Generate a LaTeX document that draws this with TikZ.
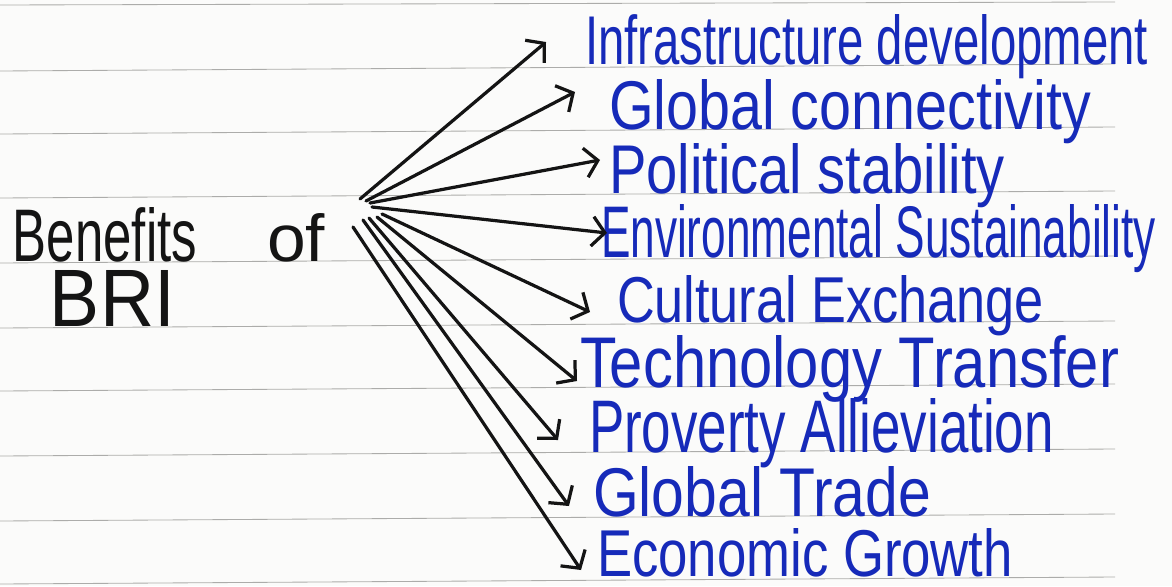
\documentclass[tikz,border=0pt]{standalone}
\usepackage{fontspec}
\setmainfont{Liberation Sans}
\newfontfamily\hand{Liberation Sans}
\usetikzlibrary{arrows.meta}
\newlength\px
\setlength\px{0.025cm}
\newcommand\fitbox[3]{\resizebox{#1\px}{#2\px}{\fontsize{44}{50}\selectfont #3}}
\definecolor{ink}{RGB}{22,42,185}
\definecolor{pen}{RGB}{20,20,20}
\definecolor{paper}{RGB}{251,251,250}
\definecolor{rulec}{RGB}{172,172,170}
\begin{document}
\begin{tikzpicture}[x=0.025cm,y=-0.025cm,
  rule/.style={rulec, line width=0.6pt},
  blue text/.style={anchor=base west, inner sep=0pt, outer sep=0pt, text=ink, font=\hand},
  black text/.style={anchor=base west, inner sep=0pt, outer sep=0pt, text=pen, font=\hand},
  arr/.style={pen, line width=2.3pt, line cap=round, line join=round,
    -{Straight Barb[length=9pt,width=21pt]}}]
\fill[paper] (0,0) rectangle (1172,586);
\useasboundingbox (0,0) rectangle (1172,586);
% ruled lines of the paper
\draw[rule] (0,5) -- (1115,2);
\foreach \m in {70,133,197,262,327,390,455,520,583}
  \draw[rule] (0,\m+1) -- (1115,\m-6);
% central text
\node[black text] (benefits) at (13,261) {\fitbox{184}{54}{Benefits}};
\node[black text] (of) at (267,261) {\fitbox{58}{48}{of}};
\node[black text] (bri) at (50,326) {\fitbox{125}{56}{BRI}};
% branches
\node[blue text] (n1) at (585,64) {\fitbox{563}{50}{Infrastructure development}};
\node[blue text] (n2) at (609,129) {\fitbox{482}{50}{Global connectivity}};
\node[blue text] (n3) at (609,193) {\fitbox{396}{50}{Political stability}};
\node[blue text] (n4) at (601,257) {\fitbox{555}{53}{Environmental Sustainability}};
\node[blue text] (n5) at (617,322) {\fitbox{427}{47}{Cultural Exchange}};
\node[blue text] (n6) at (580,387) {\fitbox{539}{52}{Technology Transfer}};
\node[blue text] (n7) at (589,452) {\fitbox{465}{54}{Proverty Allieviation}};
\node[blue text] (n8) at (593,516) {\fitbox{338}{50}{Global Trade}};
\node[blue text] (n9) at (597,576) {\fitbox{416}{48}{Economic Growth}};
% fan origins and arrow tips
\coordinate (o1) at (360,199);
\coordinate (o2) at (366,201);
\coordinate (o3) at (370,203);
\coordinate (o4) at (372,207);
\coordinate (o5) at (382,214);
\coordinate (o6) at (377,217);
\coordinate (o7) at (369,218);
\coordinate (o8) at (363,220);
\coordinate (o9) at (353,227);
\coordinate (t1) at (546,42);
\coordinate (t2) at (575,92);
\coordinate (t3) at (600,160);
\coordinate (t4) at (607,233);
\coordinate (t5) at (590,312);
\coordinate (t6) at (577,381);
\coordinate (t7) at (558,440);
\coordinate (t8) at (569,506);
\coordinate (t9) at (581,570);
\foreach \i in {1,...,9}
  \draw[arr] (o\i) -- (t\i);
\end{tikzpicture}
\end{document}
